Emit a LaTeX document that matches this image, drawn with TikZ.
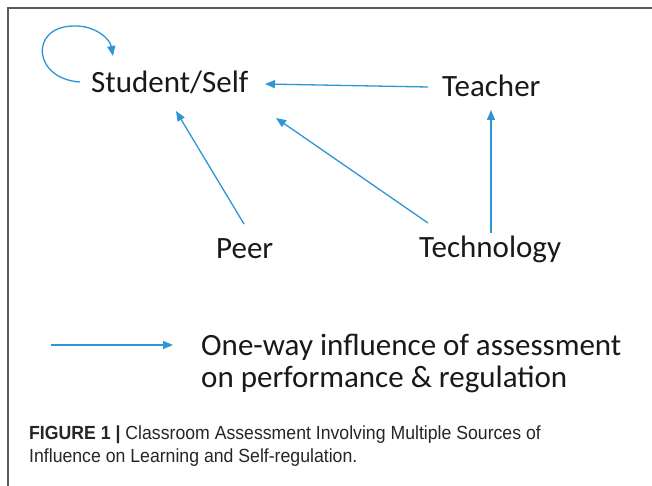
\documentclass[tikz,border=0pt]{standalone}
\usepackage{fontspec}
\setmainfont{Carlito}
\newfontfamily\capfont[FakeStretch=0.93]{Liberation Sans}
\usetikzlibrary{arrows.meta}
\definecolor{arrowblue}{RGB}{45,150,215}
\definecolor{framegray}{RGB}{90,90,90}
\tikzset{
  lbl/.style={anchor=base west, inner sep=0pt, font=\fontsize{31}{33}\selectfont, text=black!90},
  infl/.style={draw=arrowblue, line width=1.3pt, -{Triangle[length=10pt,width=8pt]}},
  capt/.style={anchor=base west, inner sep=0pt, font=\capfont\fontsize{19}{22}\selectfont, text=black!85, align=left}
}
\begin{document}
\begin{tikzpicture}[x=1pt,y=-1pt]
\useasboundingbox (0,0) rectangle (652,486);
\fill[white] (0,0) rectangle (652,486);
\draw[framegray, line width=1.2pt] (8,486) -- (8,8) -- (652,8);
\node[lbl] (self) at (91,93) {Student/Self};
\node[lbl] (teacher) at (442,97) {Teacher};
\node[lbl] (peer) at (216,258) {Peer};
\node[lbl] (tech) at (419,257) {Technology};
\node[lbl] (leg1) at (201,355) {One-way influence of assessment};
\node[lbl] (leg2) at (201,387) {on performance \& regulation};
\node[capt] (cap1) at (29,439) {\textbf{FIGURE 1 |} Classroom Assessment Involving Multiple Sources of};
\node[capt] (cap2) at (29,462) {Influence on Learning and Self-regulation.};
% arrows
\draw[infl] ([shift={(-14,-10)}]teacher.base west) -- ([shift={(174,-9)}]self.base west);
\draw[infl] ([shift={(28,-34)}]peer.base west) -- ([shift={(85,18)}]self.base west);
\draw[infl] ([shift={(9,-34)}]tech.base west) -- ([shift={(185,25)}]self.base west);
\draw[infl] ([shift={(72,-24)}]tech.base west) -- ([shift={(49,13)}]teacher.base west);
\draw[infl] ([shift={(-11,-11)}]self.base west) .. controls ([shift={(-58,-14)}]self.base west) and ([shift={(-62,-66)}]self.base west) .. ([shift={(-18,-67)}]self.base west) .. controls ([shift={(4,-68)}]self.base west) and ([shift={(19,-54)}]self.base west) .. ([shift={(22,-37)}]self.base west);
\draw[infl] ([shift={(-150,-10)}]leg1.base west) -- ([shift={(-28,-10)}]leg1.base west);
\end{tikzpicture}
\end{document}
